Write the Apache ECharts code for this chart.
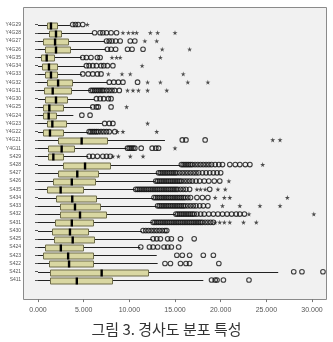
<!DOCTYPE html>
<html>
<head>
<meta charset="utf-8">
<script src="https://cdn.jsdelivr.net/npm/echarts@6/dist/echarts.min.js"></script>
<style>
  html, body { margin: 0; padding: 0; background: #fff; }
  #chart { width: 333px; height: 342px; }
</style>
</head>
<body>
<div id="chart"></div>
<script>
// 구역 이름 (위에서 아래 순서)
var categories = ['Y4G29','Y4G28','Y4G27','Y4G26','Y4G35','Y4G34','Y4G33','Y4G32','Y4G31','Y4G30','Y4G25','Y4G24','Y4G23','Y4G22','Y4G21','Y4G11',
                  'S429','S428','S427','S426','S435','S434','S433','S432','S431','S430','S425','S424','S423','S422','S421','S411'];

var lowWhisker  = [0,0,0,0,0,0,0,0,0,0,0,0,0,0,0,0, 0,0,0,0,0,0,0,0,0,0,0,0,0,0,0,0];
var q1Values    = [1.02,1.24,0.58,0.77,0.30,0.40,0.77,0.95,0.66,0.77,0.50,0.58,1.02,0.58,2.22,1.13,
                   1.13,2.77,2.22,1.68,0.95,1.97,2.37,2.41,1.86,1.53,1.80,0.77,0.58,1.20,1.31,1.31];
var medianValues= [1.42,1.97,1.87,1.97,0.95,1.20,1.42,2.20,1.61,1.97,1.24,1.17,1.57,1.31,4.78,2.59,
                   1.68,5.15,4.30,3.70,2.48,3.75,4.05,4.60,3.70,3.50,3.80,2.50,3.30,3.40,6.97,4.25];
var q3Values    = [2.11,2.52,3.30,3.50,1.75,2.00,2.12,3.70,3.58,3.14,2.70,2.04,3.14,2.77,7.55,4.00,
                   2.77,7.88,6.60,6.30,4.90,6.35,6.70,7.50,6.00,5.50,6.15,4.96,6.05,6.05,12.0,8.07];
var highWhisker = [3.5,6.0,7.3,7.4,4.8,5.1,4.8,7.6,5.7,6.2,5.9,3.87,7.0,5.5,13.9,9.7,
                   5.5,15.6,13.1,12.8,10.6,12.6,13.0,15.0,12.5,11.4,12.5,11.2,13.0,13.1,26.3,18.1];

// 이상값 (원) 과 극단값 (별)
var outCircles = [
  [3.8,4.1,4.4,4.9],
  [6.2,6.8,7.1,7.5,8.0,8.6],
  [7.5,7.8,8.1,8.5,9.0,10.1,10.6],
  [7.6,8.0,8.5,9.8,10.3,11.5],
  [4.9,5.3,5.8,6.5,6.8],
  [5.3,5.6,6.0,6.4,6.9,7.2,7.6,8.2],
  [4.9,5.5,6.0,6.5,6.9],
  [7.8,8.3,8.8,9.3,10.9],
  [5.8,6.0,6.2,6.4,6.6,6.8,7.0,7.2,7.5,7.8,8.1,8.4,8.9],
  [6.4,6.8,7.2,7.7,8.0],
  [6.0,6.4,6.6,8.0],
  [4.8,5.7],
  [7.3,7.8,8.2],
  [5.6,5.8,6.0,6.2,6.4,6.6,6.9,7.2,7.5,7.8,8.4],
  [15.8,16.2,18.3],
  [9.8,10.0,10.2,10.4,10.6,11.3,12.5,12.9,13.2],
  [5.6,6.0,6.5,7.1,7.5,7.9],
  [15.7,15.9,16.1,16.3,16.5,16.7,16.9,17.2,17.5,17.8,18.1,18.4,18.7,19.0,19.4,19.8,20.2,21.0,21.6,22.1,22.7,23.2],
  [13.2,13.4,13.6,13.8,14.0,14.2,14.4,14.6,14.8,15.0,15.2,15.5,15.8,16.1,16.4,16.7,17.0,17.3,17.6,18.0,18.4,18.8,19.2,19.6,20.0],
  [12.9,13.1,13.3,13.5,13.7,13.9,14.1,14.3,14.5,14.7,14.9,15.1,15.3,15.5,15.7,16.0,16.3,16.6,16.9,17.3,17.7,18.2,18.7,19.3,19.9],
  [10.7,10.9,11.1,11.3,11.5,11.7,11.9,12.1,12.3,12.5,12.7,12.9,13.1,13.3,13.5,13.7,13.9,14.1,14.3,14.5,14.7,14.9,15.1,15.3,15.6,15.9,16.2,16.6,18.8],
  [12.7,12.9,13.1,13.3,13.5,13.7,13.9,14.1,14.3,14.5,14.7,14.9,15.1,15.3,15.5,15.7,15.9,16.1,16.4,16.7,17.4,18.0,18.6],
  [13.1,13.3,13.5,13.7,13.9,14.1,14.3,14.5,14.7,14.9,15.1,15.3,15.5,15.7,15.9,16.1,16.4,16.7,17.0,17.3,17.7,18.1,18.6],
  [15.1,15.3,15.5,15.7,15.9,16.1,16.3,16.5,16.7,16.9,17.1,17.4,17.8,18.2,18.7,19.2,19.7,20.2,20.7,21.2,21.7,22.1,22.6],
  [12.6,12.8,13.0,13.2,13.4,13.6,13.8,14.0,14.2,14.4,14.6,14.8,15.0,15.2,15.4,15.6,15.8,16.0,16.2,16.4,16.6,16.8,17.0,17.2,17.4,17.6,17.8,18.0,18.3,18.6,18.9,19.2],
  [11.5,11.8,12.1,12.4,12.7,13.0,13.3,13.6,13.9,14.1],
  [12.6,13.0,13.4,14.2,14.6,15.6,17.1],
  [11.25,12.2,12.6,13.1,13.8,14.2,14.6,15.4],
  [15.2,15.8,16.6,18.1,19.2],
  [13.9,14.5,15.6,16.2,16.6,19.8],
  [28.0,28.9,31.2],
  [19.0,19.4,19.6,20.3,23.1]
];
var outStars = [
  [5.4],
  [9.3,9.9,10.4,10.8,12.3,13.1,15.0],
  [11.7,13.0],
  [13.6,16.6],
  [8.1,8.6,9.0,13.4],
  [11.4],
  [7.7,9.2,10.1,15.9],
  [12.0,13.4,16.4,18.6],
  [9.8,10.4,11.0,12.0,14.1],
  [],
  [9.7],
  [],
  [12.0],
  [8.7,9.3,13.0],
  [25.7,26.5],
  [15.0],
  [8.2,8.8,10.1,11.5],
  [24.6],
  [],
  [20.9],
  [17.4,17.8,18.3,19.7,20.5],
  [19.4,20.4,21.0,27.3],
  [20.2,22.1,24.3,26.5],
  [23.1,30.2],
  [19.4,19.9,20.4,21.0,22.5,23.9],
  [], [], [], [], [], [], []
];
var xTicks = [0, 5, 10, 15, 20, 25, 30];

var chart = echarts.init(document.getElementById('chart'));

var boxData = [];
for (var i = 0; i < categories.length; i++) {
  boxData.push([i, lowWhisker[i], q1Values[i], medianValues[i], q3Values[i], highWhisker[i]]);
}
var circleData = [], starData = [];
for (var r = 0; r < categories.length; r++) {
  for (var k = 0; k < outCircles[r].length; k++) circleData.push([outCircles[r][k], r]);
  for (var s = 0; s < outStars[r].length; s++) starData.push([outStars[r][s], r]);
}

function renderBox(params, api) {
  var y = api.value(0);
  var lo = api.coord([api.value(1), y]);
  var p1 = api.coord([api.value(2), y]);
  var pm = api.coord([api.value(3), y]);
  var p3 = api.coord([api.value(4), y]);
  var hi = api.coord([api.value(5), y]);
  var h = Math.round(api.size([0, 1])[1] * 0.7);
  var cy = Math.round(lo[1]) + 0.5;
  return {
    type: 'group',
    children: [
      { type: 'line', shape: { x1: lo[0], y1: cy, x2: hi[0], y2: cy }, style: { stroke: '#222', lineWidth: 1 } },
      { type: 'rect', shape: { x: Math.round(p1[0]) + 0.5, y: Math.round(cy - h / 2), width: Math.round(p3[0] - p1[0]), height: h },
        style: { fill: '#d9d7a2', stroke: '#6f6d4a', lineWidth: 1 } },
      { type: 'rect', shape: { x: pm[0] - 1.2, y: Math.round(cy - h / 2) - 0.5, width: 2.4, height: h + 1 }, style: { fill: '#000' } }
    ]
  };
}

var starPath = 'path://M50,0 L61,35 L98,35 L68,57 L79,91 L50,70 L21,91 L32,57 L2,35 L39,35 Z';

chart.setOption({
  animation: false,
  backgroundColor: '#fff',
  graphic: [
    { type: 'rect', z: -10, shape: { x: 23.5, y: 7.5, width: 303, height: 292 },
      style: { fill: '#f1f1f1', stroke: '#8a8a8a', lineWidth: 1 } },
    { type: 'text', left: 'center', top: 322,
      style: { text: '그림 3. 경사도 분포 특성', fill: '#333', font: '15px "Noto Sans CJK KR"' } }
  ],
  grid: { left: 38, right: 21, top: 20.4, height: 263.7 },
  xAxis: {
    type: 'value', min: 0, max: 30, interval: 5, offset: 15,
    axisLine: { show: false },
    axisTick: { show: true, length: 3, lineStyle: { color: '#777' } },
    splitLine: { show: false },
    axisLabel: { margin: 7, fontSize: 7, color: '#555', fontFamily: 'Liberation Sans',
      formatter: function (v) { return xTicks.indexOf(v) >= 0 ? v.toFixed(3) : ''; } }
  },
  yAxis: {
    type: 'category', data: categories, inverse: true, offset: 15,
    axisLine: { show: false },
    axisTick: { show: true, length: 3, alignWithLabel: true, lineStyle: { color: '#555' } },
    axisLabel: { margin: 2, fontSize: 5, color: '#555', fontFamily: 'Liberation Sans', interval: 0 }
  },
  series: [
    { type: 'custom', renderItem: renderBox, data: boxData, z: 2,
      encode: { x: [1, 2, 3, 4, 5], y: 0 } },
    { type: 'scatter', data: circleData, symbol: 'circle', symbolSize: 4.6, z: 3, clip: false,
      itemStyle: { color: 'rgba(0,0,0,0)', borderColor: '#111', borderWidth: 1.1 } },
    { type: 'scatter', data: starData, symbol: starPath, symbolSize: 5, z: 3, clip: false,
      itemStyle: { color: '#222' } }
  ]
});
</script>
</body>
</html>
